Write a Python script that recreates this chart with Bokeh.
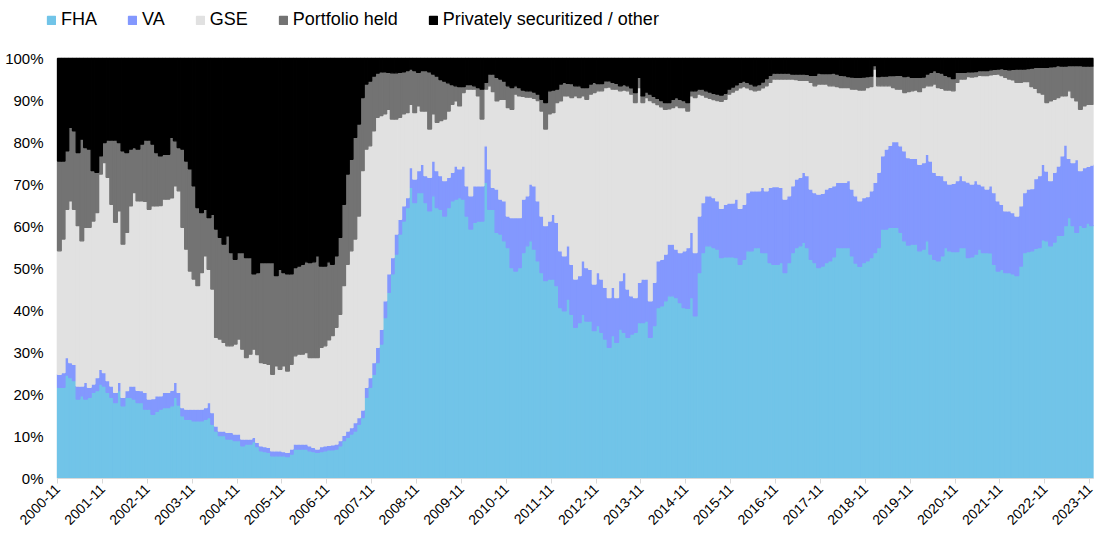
import math
import pandas as pd
from bokeh.plotting import figure
from bokeh.models import (ColumnDataSource, Range1d, FixedTicker, Legend, LegendItem,
                          PrintfTickFormatter, BoxAnnotation)
from bokeh.embed import file_html
from bokeh.resources import INLINE

# ---------------- data (monthly shares, %) ----------------
months = pd.date_range("2000-11-01", "2023-11-01", freq="MS").strftime("%Y-%m").tolist()

fha = [21.7, 21.7, 24.6, 24.0, 23.3, 18.9, 19.7, 18.9, 19.3, 20.5,
       20.9, 22.5, 22.0, 20.5, 19.3, 18.1, 20.9, 17.3, 19.3, 19.3,
       18.9, 18.1, 18.1, 16.5, 16.5, 15.3, 16.0, 16.5, 16.9, 16.9,
       17.3, 19.3, 17.5, 14.9, 14.1, 14.1, 13.7, 13.7, 13.7, 14.1,
       14.5, 12.9, 11.3, 10.2, 10.2, 9.4, 9.4, 9.0, 9.0, 7.8,
       8.2, 8.2, 8.8, 7.6, 6.6, 6.4, 6.2, 5.4, 5.4, 5.4,
       5.4, 5.2, 5.8, 7.0, 7.0, 7.0, 7.0, 6.6, 6.4, 6.2,
       6.4, 6.6, 6.8, 6.8, 7.0, 7.8, 9.0, 9.8, 10.6, 11.3,
       12.9, 14.5, 19.3, 21.7, 24.8, 27.6, 32.0, 38.3, 44.3, 48.7,
       53.4, 58.2, 61.3, 64.5, 69.3, 65.7, 68.1, 68.1, 65.7, 63.7,
       67.3, 64.5, 64.1, 62.5, 64.5, 66.1, 66.5, 66.9, 66.5, 62.5,
       59.4, 61.0, 61.3, 61.3, 70.5, 64.1, 64.1, 58.6, 58.2, 56.6,
       55.0, 50.2, 49.4, 50.2, 53.8, 55.4, 56.6, 54.6, 51.8, 49.0,
       47.1, 47.5, 47.5, 45.9, 40.7, 39.9, 42.7, 39.1, 36.0, 37.1,
       39.1, 37.5, 37.5, 35.2, 36.4, 34.8, 33.2, 31.2, 34.0, 32.4,
       35.6, 34.8, 33.6, 34.4, 34.8, 37.1, 37.1, 37.5, 33.6, 36.4,
       40.7, 41.1, 42.3, 43.5, 43.5, 43.1, 41.9, 40.7, 40.5, 43.1,
       38.7, 49.0, 53.8, 55.4, 55.4, 55.0, 54.6, 52.6, 52.8, 52.8,
       52.8, 52.6, 51.0, 52.2, 54.2, 54.2, 55.0, 55.0, 53.8, 53.8,
       51.4, 51.0, 51.0, 51.4, 49.0, 51.4, 53.8, 55.0, 55.4, 56.2,
       55.0, 52.2, 51.4, 50.2, 50.6, 51.4, 51.8, 52.8, 55.0, 55.0,
       55.0, 55.0, 53.0, 51.3, 50.5, 51.4, 51.8, 52.6, 53.8, 55.0,
       59.4, 59.4, 59.8, 59.8, 59.8, 58.6, 56.6, 55.6, 55.8, 55.8,
       54.2, 54.6, 56.6, 53.4, 52.2, 51.8, 53.0, 55.0, 54.2, 54.0,
       54.0, 55.0, 55.0, 52.6, 52.8, 53.4, 54.6, 53.8, 53.8, 53.7,
       51.0, 49.4, 49.8, 49.0, 49.0, 48.7, 48.3, 50.6, 53.8, 54.0,
       54.2, 54.8, 55.0, 56.8, 56.6, 55.4, 56.3, 57.9, 57.9, 60.2,
       62.1, 60.2, 58.6, 60.3, 59.8, 60.8, 60.2]

va = [3.1, 3.5, 4.2, 3.6, 3.9, 3.1, 2.3, 4.0, 2.4, 2.0,
      3.1, 3.5, 3.2, 2.8, 2.7, 2.4, 2.0, 2.0, 1.6, 2.7,
      3.1, 2.9, 2.8, 4.0, 2.4, 3.7, 3.7, 3.2, 3.6, 3.6,
      3.7, 3.6, 3.0, 2.0, 2.4, 2.4, 2.8, 2.8, 2.8, 2.8,
      3.6, 2.8, 1.2, 1.1, 1.1, 1.6, 1.6, 1.6, 1.6, 1.6,
      1.2, 1.2, 1.0, 1.0, 1.2, 1.2, 1.2, 1.2, 1.2, 1.2,
      1.0, 1.0, 1.2, 1.2, 1.2, 1.2, 1.2, 1.2, 1.0, 0.8,
      1.2, 1.2, 1.1, 1.2, 1.2, 1.2, 1.3, 1.5, 1.5, 2.0,
      1.6, 1.8, 2.4, 2.3, 2.8, 3.6, 3.5, 4.0, 4.4, 3.9,
      4.8, 3.5, 3.6, 2.4, 4.7, 5.6, 5.2, 6.7, 6.4, 8.0,
      8.3, 8.8, 8.0, 8.4, 7.2, 6.8, 7.9, 6.8, 7.9, 7.2,
      7.9, 8.7, 8.4, 8.4, 8.7, 9.6, 5.2, 10.3, 8.3, 9.5,
      7.5, 11.9, 12.7, 11.9, 12.7, 11.9, 13.5, 15.1, 14.3, 13.5,
      13.1, 13.8, 15.4, 15.1, 13.5, 13.1, 12.7, 11.9, 11.5, 11.2,
      12.7, 12.7, 12.3, 11.1, 12.6, 12.7, 12.3, 11.9, 11.5, 10.7,
      11.5, 14.2, 11.5, 9.1, 8.3, 9.6, 10.4, 10.0, 8.7, 10.3,
      11.1, 11.1, 11.1, 12.3, 12.3, 11.5, 11.9, 13.5, 14.5, 15.5,
      15.1, 13.5, 11.9, 11.9, 11.9, 11.9, 11.5, 11.7, 12.5, 12.8,
      12.8, 13.9, 13.3, 13.1, 13.9, 14.3, 13.5, 13.5, 15.5, 14.7,
      17.9, 18.5, 18.5, 17.9, 17.5, 15.9, 15.9, 16.3, 16.3, 16.7,
      17.1, 16.7, 16.7, 17.5, 17.3, 17.5, 17.5, 16.9, 15.5, 15.5,
      15.5, 15.9, 15.9, 16.0, 15.6, 15.5, 15.3, 15.9, 16.7, 17.9,
      17.4, 19.0, 19.5, 20.4, 20.4, 20.6, 21.4, 20.8, 20.4, 20.4,
      20.6, 20.6, 20.6, 22.2, 20.7, 20.4, 19.1, 15.9, 15.9, 16.3,
      16.9, 17.1, 15.9, 18.0, 17.3, 17.5, 15.5, 15.9, 15.1, 16.0,
      17.1, 16.7, 15.5, 14.7, 14.7, 14.6, 14.2, 14.3, 14.3, 14.9,
      14.8, 16.6, 17.1, 18.0, 16.6, 15.5, 16.6, 16.5, 18.9, 19.2,
      14.1, 15.0, 17.3, 13.0, 14.2, 13.5, 14.4]

gse = [29.4, 31.8, 35.3, 38.5, 36.9, 38.2, 34.6, 36.9, 38.1, 38.8,
       39.3, 46.5, 50.0, 48.4, 43.3, 40.5, 40.8, 36.5, 37.7, 42.9,
       46.1, 45.1, 45.2, 45.5, 45.2, 45.9, 45.2, 45.3, 46.0, 46.0,
       45.8, 46.8, 48.0, 42.9, 38.1, 32.9, 31.0, 29.4, 32.5, 36.1,
       31.7, 29.4, 21.1, 21.9, 21.1, 20.6, 20.6, 21.4, 22.6, 21.4,
       19.4, 20.2, 21.0, 20.9, 19.8, 19.8, 19.8, 18.2, 20.2, 19.4,
       20.4, 19.4, 20.2, 21.0, 21.4, 21.4, 21.8, 21.0, 21.4, 21.8,
       23.6, 23.8, 25.1, 26.0, 27.8, 30.1, 35.6, 39.7, 42.1, 43.7,
       48.0, 57.0, 56.7, 55.2, 55.2, 54.8, 50.9, 44.5, 39.2, 33.0,
       27.4, 24.3, 21.9, 20.2, 15.1, 15.8, 15.4, 12.7, 15.4, 11.5,
       11.2, 11.5, 13.1, 14.7, 15.8, 16.2, 15.5, 15.0, 17.5, 23.0,
       25.4, 23.0, 21.4, 15.9, 13.5, 19.8, 22.8, 21.0, 23.8, 24.2,
       25.8, 25.8, 29.4, 29.0, 24.5, 23.5, 20.7, 20.8, 23.9, 25.0,
       23.0, 25.5, 24.2, 28.5, 35.7, 38.1, 35.7, 39.7, 43.6, 42.4,
       39.3, 40.1, 41.7, 45.6, 43.3, 44.8, 47.6, 50.1, 47.2, 49.6,
       45.2, 43.5, 47.2, 48.0, 46.4, 46.4, 42.0, 43.2, 47.7, 42.8,
       37.2, 36.3, 34.5, 32.2, 32.5, 34.1, 34.5, 34.1, 32.5, 32.5,
       36.9, 29.0, 25.6, 23.5, 23.2, 23.3, 23.9, 25.5, 25.0, 25.9,
       26.4, 26.0, 28.7, 28.0, 24.9, 24.1, 23.8, 24.0, 23.7, 25.0,
       25.0, 25.6, 25.6, 25.8, 28.6, 27.8, 25.4, 23.7, 23.1, 21.9,
       22.7, 25.4, 25.4, 26.2, 26.0, 25.0, 24.2, 23.8, 22.8, 22.6,
       22.6, 22.2, 23.8, 25.4, 26.4, 25.6, 26.0, 24.8, 27.0, 20.6,
       16.7, 15.1, 14.2, 12.9, 12.5, 13.5, 13.9, 15.7, 16.1, 16.3,
       17.3, 17.9, 16.3, 17.9, 21.0, 20.9, 20.8, 21.6, 22.4, 22.0,
       23.4, 23.0, 24.2, 25.1, 25.5, 24.8, 25.9, 26.2, 27.0, 26.4,
       28.1, 30.2, 30.6, 31.8, 31.4, 31.6, 31.8, 29.4, 26.4, 25.6,
       24.3, 21.5, 19.8, 16.7, 16.3, 19.0, 17.4, 16.3, 14.3, 11.7,
       16.1, 15.5, 14.0, 14.6, 14.7, 14.8, 14.5]

portfolio = [21.4, 18.6, 13.9, 17.5, 18.7, 17.4, 24.2, 19.0, 18.6, 12.0,
             9.6, 4.3, 4.8, 8.9, 15.3, 19.6, 16.3, 22.2, 19.0, 13.5,
             10.7, 12.3, 13.5, 14.6, 16.5, 14.7, 12.7, 11.8, 10.7, 10.7,
             14.4, 10.7, 10.3, 18.6, 21.0, 24.3, 22.2, 18.6, 14.3, 11.1,
             12.3, 17.8, 25.8, 24.2, 23.4, 26.2, 22.2, 20.2, 20.6, 23.0,
             23.8, 23.0, 17.9, 19.5, 23.8, 24.0, 24.2, 26.6, 21.5, 23.8,
             22.2, 23.1, 21.5, 21.0, 21.0, 21.4, 21.6, 22.6, 22.8, 24.2,
             19.4, 19.0, 18.6, 17.0, 17.0, 18.3, 19.4, 21.5, 21.8, 24.2,
             21.9, 17.4, 15.5, 15.4, 13.0, 10.5, 10.4, 10.0, 8.8, 11.0,
             11.0, 10.7, 10.0, 10.0, 8.4, 10.0, 8.0, 9.6, 9.6, 13.6,
             9.5, 11.0, 9.8, 9.0, 6.7, 4.7, 3.6, 4.6, 1.4, 1.1,
             1.1, 0.8, 2.0, 7.1, 1.6, 2.8, 4.2, 5.6, 4.8, 4.3,
             5.2, 5.2, 2.0, 2.0, 1.5, 1.5, 1.5, 1.5, 1.5, 2.8,
             6.3, 5.5, 5.4, 3.2, 4.0, 3.2, 3.0, 3.3, 2.4, 2.8,
             2.0, 2.8, 2.4, 2.4, 1.7, 1.7, 1.6, 1.5, 1.6, 1.4,
             1.2, 1.3, 1.2, 1.5, 2.4, 2.4, 1.6, 1.3, 1.5, 1.5,
             1.5, 1.5, 1.6, 1.5, 2.0, 2.0, 2.0, 1.7, 2.0, 1.2,
             1.6, 1.2, 1.4, 1.5, 1.5, 1.5, 1.5, 1.5, 1.4, 1.2,
             1.2, 1.2, 1.3, 1.3, 1.3, 1.3, 1.2, 1.3, 1.4, 1.7,
             1.7, 1.4, 1.4, 1.4, 1.4, 1.4, 1.2, 1.3, 1.5, 1.5,
             1.4, 1.7, 2.5, 2.6, 2.5, 2.5, 2.9, 3.0, 3.0, 2.9,
             2.8, 2.6, 2.9, 2.8, 3.0, 3.1, 2.6, 2.5, 0.8, 2.2,
             2.3, 2.3, 2.4, 2.8, 3.3, 3.3, 3.8, 3.7, 3.2, 3.0,
             3.4, 2.5, 2.8, 3.2, 3.2, 3.6, 3.6, 3.5, 3.2, 2.9,
             2.4, 1.6, 1.6, 1.1, 1.2, 1.2, 1.1, 1.2, 1.2, 1.2,
             1.2, 1.2, 1.7, 1.9, 2.2, 2.5, 3.2, 3.2, 3.0, 3.1,
             4.4, 5.0, 6.0, 6.4, 8.4, 8.1, 7.8, 7.6, 7.1, 7.1,
             6.0, 7.6, 8.4, 10.4, 9.5, 9.1, 9.1]

private = [24.4, 24.4, 22.0, 16.4, 17.2, 22.4, 19.2, 21.2, 21.6, 26.7,
           27.1, 23.2, 20.0, 19.4, 19.4, 19.4, 20.0, 22.0, 22.4, 21.6,
           21.2, 21.6, 20.4, 19.4, 19.4, 20.4, 22.4, 23.2, 22.8, 22.8,
           18.8, 19.6, 21.2, 21.6, 24.4, 26.3, 30.3, 35.5, 36.7, 35.9,
           37.9, 37.1, 40.6, 42.6, 44.2, 42.2, 46.2, 47.8, 46.2, 46.2,
           47.4, 47.4, 51.3, 51.0, 48.6, 48.6, 48.6, 48.6, 51.7, 50.2,
           51.0, 51.3, 51.3, 49.8, 49.4, 49.0, 48.4, 48.6, 48.4, 47.0,
           49.4, 49.4, 48.4, 49.0, 47.0, 42.6, 34.7, 27.5, 24.0, 18.8,
           15.6, 9.3, 6.1, 5.4, 4.2, 3.5, 3.2, 3.2, 3.3, 3.4,
           3.4, 3.3, 3.2, 2.9, 2.5, 2.9, 3.3, 2.9, 2.9, 3.2,
           3.7, 4.2, 5.0, 5.4, 5.8, 6.2, 6.5, 6.7, 6.7, 6.2,
           6.2, 6.5, 6.9, 7.3, 5.7, 3.7, 3.7, 4.5, 4.9, 5.4,
           6.5, 6.9, 6.5, 6.9, 7.5, 7.7, 7.7, 8.0, 8.5, 9.7,
           10.5, 7.7, 7.5, 7.3, 6.1, 5.7, 5.9, 6.0, 6.5, 6.5,
           6.9, 6.9, 6.1, 5.7, 6.0, 6.0, 5.3, 5.3, 5.7, 5.9,
           6.5, 6.2, 6.5, 7.0, 8.1, 4.5, 8.9, 8.0, 8.5, 9.0,
           9.5, 10.0, 10.5, 10.5, 9.7, 9.3, 9.7, 10.0, 10.5, 7.7,
           7.7, 7.3, 7.3, 7.7, 8.0, 8.3, 8.5, 8.7, 8.3, 7.3,
           6.8, 6.3, 5.7, 5.4, 5.7, 6.1, 6.5, 6.2, 5.6, 4.8,
           4.0, 3.5, 3.5, 3.5, 3.5, 3.5, 3.7, 3.7, 3.7, 3.7,
           3.8, 4.0, 4.0, 3.5, 3.6, 3.6, 3.6, 3.5, 3.7, 4.0,
           4.1, 4.3, 4.4, 4.5, 4.5, 4.4, 4.3, 4.2, 1.7, 4.3,
           4.2, 4.2, 4.1, 4.1, 4.0, 4.0, 4.3, 4.2, 4.5, 4.5,
           4.5, 4.4, 3.7, 3.3, 2.9, 3.3, 3.5, 4.0, 4.3, 4.8,
           3.3, 3.3, 3.3, 3.2, 3.2, 3.1, 2.9, 2.9, 2.9, 2.7,
           2.6, 2.5, 2.4, 2.6, 2.7, 2.6, 2.5, 2.5, 2.5, 2.4,
           2.3, 2.1, 2.1, 2.1, 2.1, 2.0, 1.9, 1.7, 1.8, 1.8,
           1.7, 1.7, 1.7, 1.7, 1.8, 1.8, 1.8]

series_names = ["FHA", "VA", "GSE", "Portfolio held", "Privately securitized / other"]
series_cols = ["fha", "va", "gse", "portfolio", "private"]
series_colors = ["#71C4E8", "#8398FE", "#E1E1E1", "#737373", "#000000"]

tick_labels = ["2000-11", "2001-11", "2002-11", "2003-11", "2004-11", "2005-11",
               "2006-11", "2007-11", "2008-11", "2009-11", "2010-11", "2011-11",
               "2012-11", "2013-11", "2014-11", "2015-11", "2016-11", "2017-11",
               "2018-11", "2019-11", "2020-11", "2021-11", "2022-11", "2023-11"]

n = len(months)
assert all(len(s) == n for s in (fha, va, gse, portfolio, private))

source = ColumnDataSource(dict(
    x=[i + 0.5 for i in range(n)], month=months,
    fha=fha, va=va, gse=gse, portfolio=portfolio, private=private))

FONT = "Liberation Sans"

# ---------------- layout (pixels) ----------------
W, H = 1097, 534
BORDER_L, BORDER_R, BORDER_B = 46, 4, 56      # frame spans the legend row too
BARS_LEFT_PAD = 11                            # bars start 11px right of the frame edge
PX_PER_PCT = 4.2
frame_w = W - BORDER_L - BORDER_R
frame_h = H - BORDER_B
px_per_month = (frame_w - BARS_LEFT_PAD) / n
x_start = -BARS_LEFT_PAD / px_per_month
y_end = frame_h / PX_PER_PCT

p = figure(width=W, height=H, output_backend="svg", toolbar_location=None,
           x_range=Range1d(x_start, n), y_range=Range1d(0, y_end),
           min_border_left=BORDER_L, min_border_right=BORDER_R,
           min_border_top=0, min_border_bottom=BORDER_B)

# light plot-area border, drawn beneath the bars (only its outer half shows)
p.add_layout(BoxAnnotation(left=0, right=n, bottom=0, top=100, fill_alpha=0,
                           line_color="#D9D9D9", line_width=2, level="underlay"))

renderers = p.vbar_stack(series_cols, x="x", width=1.0, source=source,
                         fill_color=series_colors, line_color=series_colors, line_width=1.3)

# axes
tick_pos = [months.index(t) for t in tick_labels]
p.xaxis.bounds = (0, n)
p.xaxis.ticker = FixedTicker(ticks=tick_pos)
p.xaxis.major_label_overrides = {t: lab for t, lab in zip(tick_pos, tick_labels)}
p.xaxis.major_label_orientation = math.pi / 4
p.xaxis.axis_line_color = "#D9D9D9"
p.xaxis.major_tick_line_color = "#D9D9D9"
p.xaxis.major_tick_out = 5
p.xaxis.major_tick_in = 0
p.xaxis.minor_tick_line_color = None
p.xaxis.major_label_text_font = FONT
p.xaxis.major_label_text_font_size = "14px"
p.xaxis.major_label_text_color = "#000000"
p.xaxis.major_label_standoff = 3

p.yaxis.ticker = FixedTicker(ticks=list(range(0, 101, 10)))
p.yaxis.formatter = PrintfTickFormatter(format="%d%%")
p.yaxis.axis_line_color = None
p.yaxis.major_tick_line_color = None
p.yaxis.minor_tick_line_color = None
p.yaxis.major_tick_out = 0
p.yaxis.major_tick_in = 0
p.yaxis.major_label_standoff = 3
p.yaxis.major_label_text_font = FONT
p.yaxis.major_label_text_font_size = "15px"
p.yaxis.major_label_text_color = "#000000"

p.xgrid.grid_line_color = None
p.ygrid.grid_line_color = None
p.outline_line_color = None
p.background_fill_color = "white"
p.border_fill_color = "white"

# legend in the top strip of the frame (location = bottom-left corner, screen px from frame bottom-left)
legend = Legend(items=[LegendItem(label=nm, renderers=[r]) for nm, r in zip(series_names, renderers)],
                orientation="horizontal", location=(0, frame_h - 30),
                label_text_font=FONT, label_text_font_size="18px", label_text_color="#000000",
                glyph_width=10, glyph_height=10, label_standoff=5, spacing=30,
                padding=0, margin=0, label_height=20,
                border_line_alpha=0, background_fill_alpha=0)
p.add_layout(legend, "center")

open("out.html", "w").write(file_html(p, INLINE))
